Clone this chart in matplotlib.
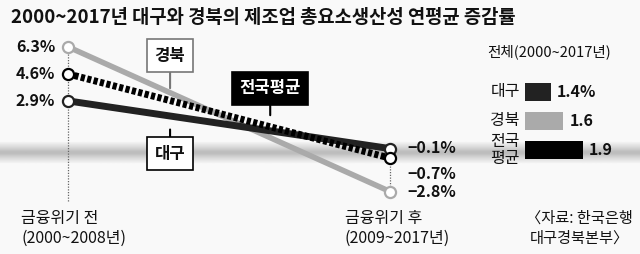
import numpy as np
import matplotlib
matplotlib.use("Agg")
import matplotlib.pyplot as plt

plt.rcParams['font.family'] = ['Noto Sans CJK KR', 'DejaVu Sans']

# --- data -------------------------------------------------------------------
periods = ["금융위기 전\n(2000~2008년)", "금융위기 후\n(2009~2017년)"]
daegu = [2.9, -0.1]
gyeongbuk = [6.3, -2.8]
national = [4.6, -0.7]

total_labels = ["대구", "경북", "전국\n평균"]
total_values = [1.4, 1.6, 1.9]
total_texts = ["1.4%", "1.6", "1.9"]

TITLE = "2000~2017년 대구와 경북의 제조업 총요소생산성 연평균 증감률"
SOURCE = "〈자료: 한국은행\n대구경북본부〉"

BG = "#f9f9f9"
DARK = "#222222"
LIGHT = "#aaaaaa"

fig = plt.figure(figsize=(6.4, 2.54), dpi=100, facecolor=BG)

# main axes covers the whole figure; x=0 / x=1 are the two periods
ax = fig.add_axes([0, 0, 1, 1])
ax.set_facecolor(BG)
px_per_x = 322.0
px_per_y = 15.9
x0_px, y0_px = 68.0, 147.0
ax.set_xlim(-x0_px / px_per_x, (640 - x0_px) / px_per_x)
ax.set_ylim((y0_px - 254) / px_per_y, y0_px / px_per_y)
ax.axis("off")

# gray decorative band near zero
band = np.concatenate([np.linspace(0.97, 0.74, 10), np.linspace(0.74, 0.97, 10)])
ax.imshow(band[:, None], cmap="gray", vmin=0, vmax=1, aspect="auto",
          extent=[ax.get_xlim()[0], ax.get_xlim()[1], -1.1, 0.3], zorder=0)

# dotted guides
ax.plot([0, 0], [-3.4, 6.3], ls=(0, (1, 1.2)), color="#666666", lw=0.9, zorder=1)
ax.plot([1, 1], [-2.8, -0.7], ls=(0, (1, 1.2)), color="#666666", lw=0.9, zorder=1)

xs = [0, 1]
ax.plot(xs, gyeongbuk, color=LIGHT, lw=4, solid_capstyle="butt", zorder=2)
ax.plot(xs, daegu, color=DARK, lw=5, solid_capstyle="butt", zorder=3)
ax.plot(xs, national, color="black", lw=5, ls=(0, (0.6, 0.35)), zorder=4)
for vals, ec in [(gyeongbuk, LIGHT), (daegu, DARK), (national, "black")]:
    ax.plot(xs, vals, ls="none", marker="o", ms=8, mfc="white", mec=ec,
            mew=1.6, zorder=5)

# value labels
for v in [gyeongbuk[0], national[0], daegu[0]]:
    ax.text(-0.04, v, f"{v:.1f}%", ha="right", va="center", fontsize=11.5,
            fontweight="bold", color="#111111")
for v, off in [(daegu[1], 0.05), (national[1], -1.0), (gyeongbuk[1], 0.0)]:
    ax.text(1.055, v + off, f"−{abs(v):.1f}%", ha="left", va="center",
            fontsize=11.5, fontweight="bold", color="#111111")

# period labels
ax.text(-0.145, -3.95, periods[0], ha="left", va="top", fontsize=11.5,
        linespacing=1.2, color="#111111")
ax.text(0.86, -3.95, periods[1], ha="left", va="top", fontsize=11.5,
        linespacing=1.2, color="#111111")
ax.text(1.755, -3.95, SOURCE, ha="right", va="top", fontsize=11,
        linespacing=1.2, color="#111111", multialignment="center")

# callout boxes
def callout(text, xy, xytext, fc, tc, ec):
    ax.annotate(text, xy=xy, xytext=xytext, ha="center", va="center",
                fontsize=12, fontweight="bold", color=tc, zorder=6,
                bbox=dict(boxstyle="square,pad=0.45", fc=fc, ec=ec, lw=1.2),
                arrowprops=dict(arrowstyle="-", color=ec, lw=1.5,
                                shrinkA=0, shrinkB=0))

callout("경북", (0.317, 3.7), (0.317, 5.75), "white", "#111111", "#777777")
callout("전국평균", (0.628, 2.0), (0.628, 3.7), "black", "white", "black")
callout("대구", (0.317, 1.1), (0.317, -0.42), "white", "#111111", "black")

# title
fig.text(0.017, 0.93, TITLE, ha="left", va="center", fontsize=13.5,
         fontweight="bold", color="#111111")

# totals bar chart on the right
fig.text(0.762, 0.795, "전체(2000~2017년)", ha="left", va="center",
         fontsize=10.5, color="#111111")
bax = fig.add_axes([525 / 640, 88 / 254, 115 / 640, 90 / 254])
bax.patch.set_alpha(0)
ypos = np.arange(len(total_values))
bax.barh(ypos, [v - 1.0 for v in total_values], left=1.0, height=0.64,
         color=[DARK, LIGHT, "black"])
bax.set_xlim(1.0, 1.0 + 115 / 64)
bax.set_ylim(2.55, -0.55)
bax.axis("off")
for y, v, t, lab in zip(ypos, total_values, total_texts, total_labels):
    bax.text(v + 0.1, y, t, ha="left", va="center", fontsize=11.5,
             fontweight="bold", color="#111111")
    bax.text(0.92, y, lab, ha="right", va="center", fontsize=11.5,
             linespacing=0.95, color="#111111")

fig.savefig("out.png", dpi=100, facecolor=BG)
